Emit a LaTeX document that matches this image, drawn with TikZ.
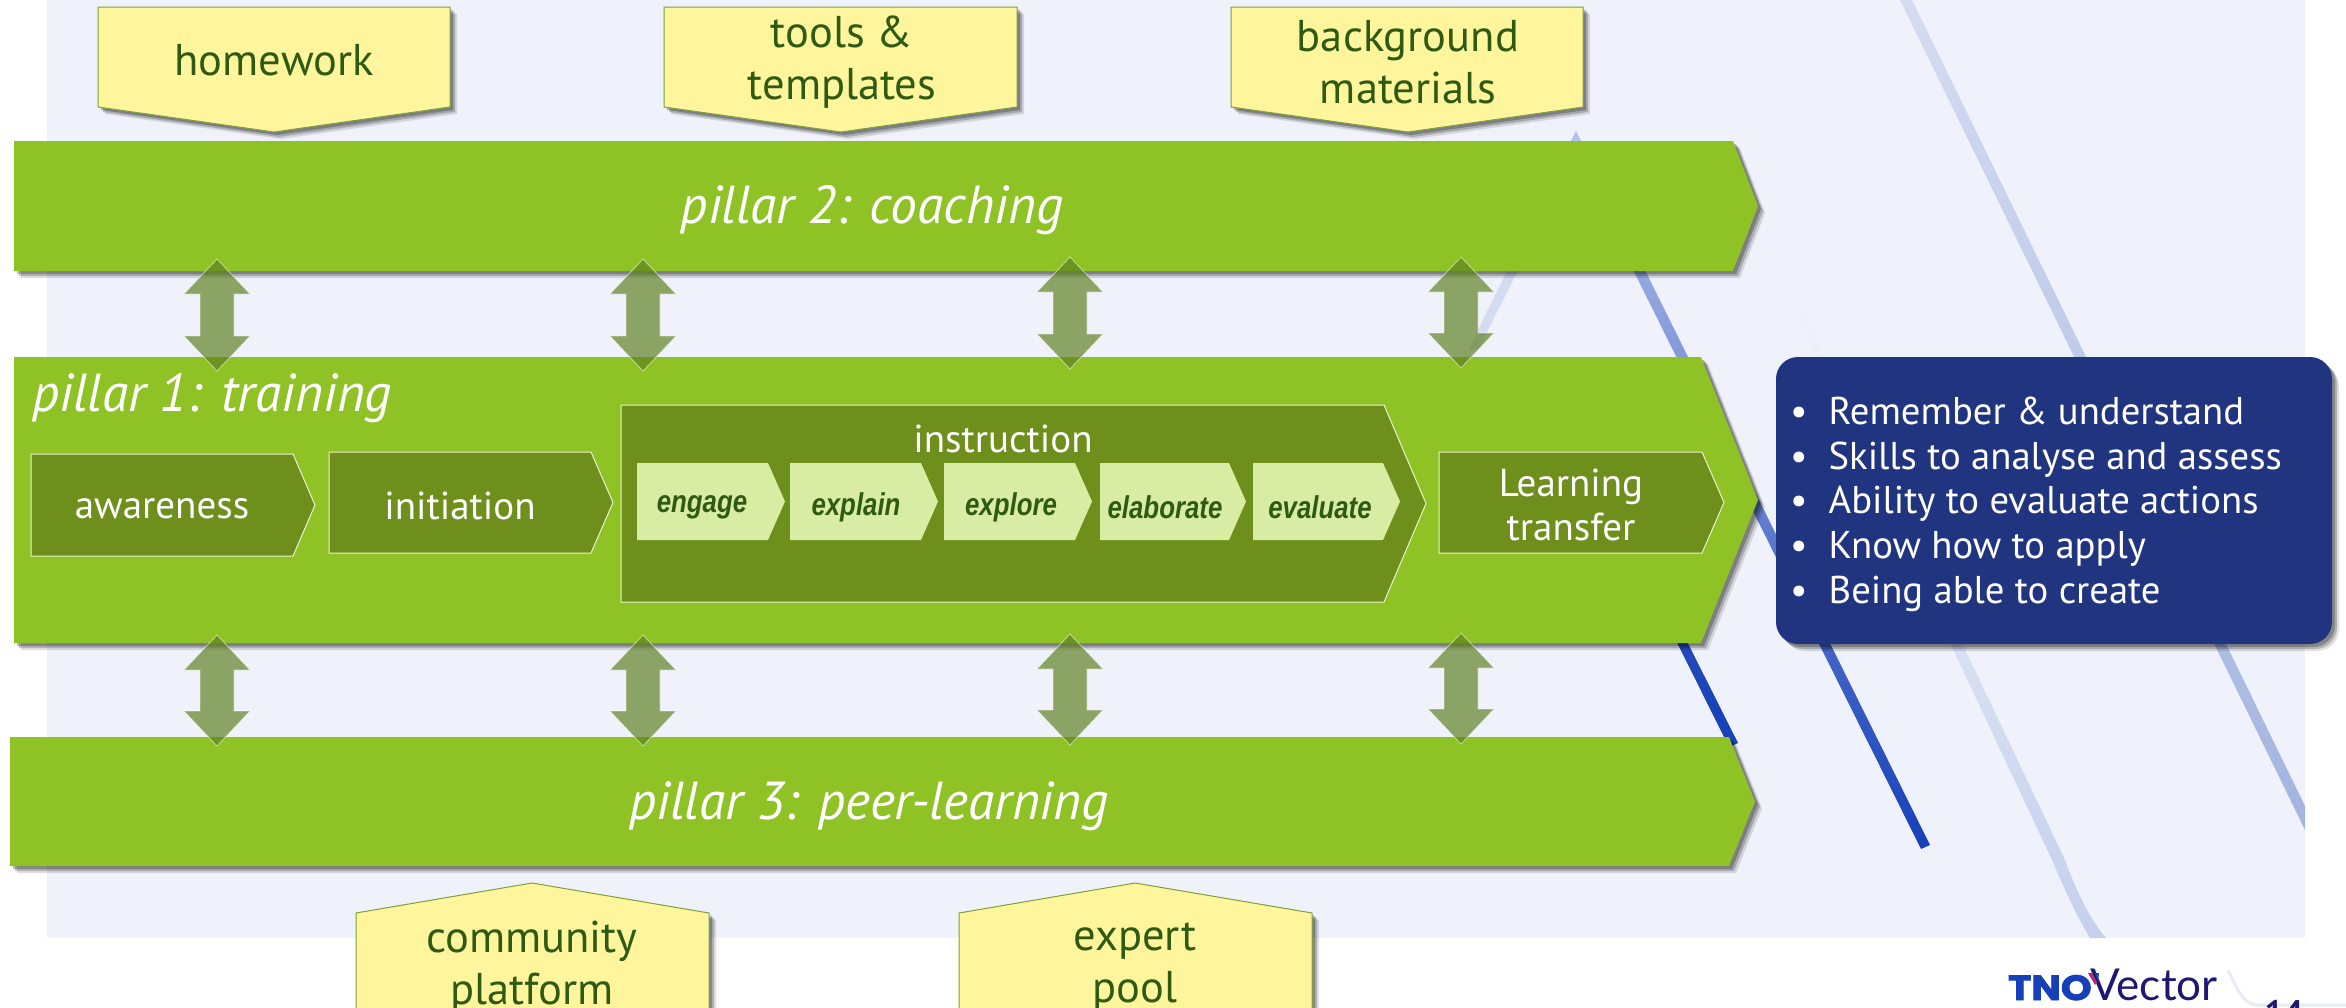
\documentclass[tikz,border=0pt]{standalone}
\usepackage{fontspec}
\setmainfont{PT Sans}
\newfontfamily\narrowbold[FakeStretch=0.82]{Liberation Sans}
\newfontfamily\logobold[FakeStretch=1.12,FakeBold=2.5]{Poppins}
\newfontfamily\logolight{Lato}
\usetikzlibrary{shadows}
\definecolor{pagebg}{HTML}{EFF2FA}
\definecolor{pillargreen}{HTML}{8FC224}
\definecolor{darkgreen}{HTML}{6E8F1C}
\definecolor{lightgreen}{HTML}{D8EDA3}
\definecolor{deepgreen}{HTML}{2F5A12}
\definecolor{notebox}{HTML}{FFF59D}
\definecolor{noteline}{HTML}{7DA03A}
\definecolor{navybox}{HTML}{21347F}
\definecolor{arrowgreen}{HTML}{5C7F1E}
\definecolor{lineA}{HTML}{D4DCF1}
\definecolor{lineAb}{HTML}{A3B4E0}
\definecolor{lineB}{HTML}{C5D0EC}
\definecolor{lineC}{HTML}{B4C3EA}
\definecolor{lineD}{HTML}{1740B8}
\definecolor{lineE}{HTML}{3557C0}
\definecolor{tnoblue}{HTML}{1540B8}
\definecolor{vectornavy}{HTML}{1F1870}
\definecolor{footerline}{HTML}{E8ECF8}
\definecolor{tickred}{HTML}{B0306A}
\newcommand{\fsz}[1]{\fontsize{#1}{60}\selectfont}
\tikzset{
  softshadow/.style={
    drop shadow={shadow xshift=7pt,shadow yshift=-7pt,opacity=.12,fill=black},
    drop shadow={shadow xshift=5pt,shadow yshift=-5pt,opacity=.2,fill=black},
    drop shadow={shadow xshift=3pt,shadow yshift=-3pt,opacity=.25,fill=black}},
  pillar/.style={fill=pillargreen,softshadow},
  darkstep/.style={fill=darkgreen,draw=white!80!pillargreen,line width=1pt},
  lightstep/.style={fill=lightgreen},
  note/.style={fill=notebox,draw=noteline,line width=1pt,softshadow},
  dblarrow/.style={fill=arrowgreen,fill opacity=.68,draw=white,draw opacity=.55,line width=.8pt},
  whitelabel/.style={text=white,inner sep=0pt,align=center},
  pillarlabel/.style={whitelabel,font=\fsz{53.5}\itshape},
  steplabel/.style={whitelabel,font=\fsz{39}},
  smalllabel/.style={text=deepgreen,inner sep=0pt,font=\fsz{31.5}\narrowbold\bfseries\itshape},
  notelabel/.style={text=deepgreen,inner sep=0pt,align=center,font=\fontsize{44.5}{52.5}\selectfont},
}
% \dbl{cx}{top}{bottom}
\newcommand{\dbl}[3]{\draw[dblarrow] (#1,#2) -- (#1+33,#2+35) -- (#1+17,#2+35) -- (#1+17,#3-35) -- (#1+33,#3-35) -- (#1,#3) -- (#1-33,#3-35) -- (#1-17,#3-35) -- (#1-17,#2+35) -- (#1-33,#2+35) -- cycle;}
% \stepshape{style}{left}{shoulder}{tip}{top}{bottom}
\newcommand{\stepshape}[6]{\path[#1] (#2,#5) -- (#3,#5) -- (#4,{(#5+#6)/2}) -- (#3,#6) -- (#2,#6) -- cycle;}
\begin{document}
\begin{tikzpicture}[x=1pt,y=-1pt]
\clip (0,0) rectangle (2346,1007);
\fill[white] (0,0) rectangle (2346,1007);
\fill[pagebg] (47,0) rectangle (2305,938);
% background lines
\shade[top color=pagebg,bottom color=lineB] (1792,301) -- (1797,301) -- (1963,645) -- (2065,860) .. controls (2076,890) and (2090,920) .. (2106,938) -- (2090,938) .. controls (2076,915) and (2064,888) .. (2052,860) -- (1951,645) -- cycle;
\shade[top color=lineA,bottom color=lineAb] (1900,0) -- (1912,0) -- (2305,806) -- (2305,830) -- cycle;
\fill[lineA] (1576,131) -- (1582,143) -- (1478,350) -- (1468,350) -- cycle;
\shade[top color=lineC,bottom color=lineD] (1576,131) -- (1930,845) -- (1921,849) -- (1570,143) -- cycle;
\shade[top color=lineE,bottom color=lineD] (1606,500) -- (1616,500) -- (1738,743) -- (1729,747) -- cycle;
% pillars
\stepshape{pillar}{14}{1733}{1758}{141}{271}
\stepshape{pillar}{14}{1701}{1758}{357}{643}
\stepshape{pillar}{10}{1729}{1755}{737}{866}
\node[pillarlabel] (p2) at (872,210) {pillar 2: coaching};
\node[pillarlabel] (p3) at (869,806) {pillar 3: peer-learning};
\node[pillarlabel,anchor=west] (p1) at (32,398) {pillar 1: training};
% notes on top
\path[note] (98,7) -- (450,7) -- (450,107) -- (274,132) -- (98,107) -- cycle;
\path[note] (664,7) -- (1017,7) -- (1017,107) -- (841,132) -- (664,107) -- cycle;
\path[note] (1231,7) -- (1583,7) -- (1583,107) -- (1408,132) -- (1231,107) -- cycle;
\node[notelabel] (homework) at (274,60) {homework};
\node[notelabel] (tools) at (842,62) {tools \&\\templates};
\node[notelabel] (background) at (1408,62) {background\\materials};
% notes below
\path[note] (356,1030) -- (356,913) -- (532,883) -- (709,913) -- (709,1030) -- cycle;
\path[note] (959,1030) -- (959,913) -- (1135,883) -- (1312,913) -- (1312,1030) -- cycle;
\node[notelabel] (community) at (532,967) {community\\platform};
\node[notelabel] (expert) at (1135,967) {expert\\pool};
% steps
\stepshape{darkstep}{31}{293}{315}{454}{556}
\stepshape{darkstep}{329}{591}{613}{452}{553}
\stepshape{darkstep}{621}{1384}{1426}{405}{602}
\stepshape{darkstep}{1439}{1702}{1724}{452}{553}
\node[steplabel] (awareness) at (162,509) {awareness};
\node[steplabel] (initiation) at (460,506) {initiation};
\node[steplabel] (instruction) at (1003,439) {instruction};
\node[whitelabel,font=\fontsize{39}{44}\selectfont] (transfer) at (1571,505) {Learning\\transfer};
\stepshape{lightstep}{637}{768}{785}{463}{540}
\stepshape{lightstep}{790}{921}{938}{463}{540}
\stepshape{lightstep}{944}{1075}{1092}{463}{540}
\stepshape{lightstep}{1100}{1229}{1246}{463}{540}
\stepshape{lightstep}{1253}{1383}{1400}{463}{540}
\node[smalllabel] (engage) at (702,507) {engage};
\node[smalllabel] (explain) at (856,507) {explain};
\node[smalllabel] (explore) at (1011,507) {explore};
\node[smalllabel] (elaborate) at (1165,507) {elaborate};
\node[smalllabel] (evaluate) at (1320,507) {evaluate};
% double arrows
\dbl{217}{259}{371}
\dbl{643}{259}{371}
\dbl{1070}{257}{369}
\dbl{1461}{257}{368}
\dbl{217}{635}{746}
\dbl{643}{635}{746}
\dbl{1070}{634}{745}
\dbl{1461}{633}{744}
% outcome box
\node[fill=navybox,rounded corners=22pt,minimum width=556pt,minimum height=287pt,inner sep=0pt,softshadow] (outcomes) at (2054,500.5) {};
\node[text=white,inner sep=0pt,anchor=west,font=\fontsize{38.7}{44.6}\selectfont] (outcometext) at (1790,505) {\begin{tabular}{@{}l@{\hspace{21pt}}l@{}}
•&Remember \& understand\\
•&Skills to analyse and assess\\
•&Ability to evaluate actions\\
•&Know how to apply\\
•&Being able to create
\end{tabular}};
% footer
\draw[line width=3pt,color=footerline] (2228,970) .. controls (2238,990) and (2242,1004) .. (2258,1005) -- (2346,1005);
\node[inner sep=0pt,anchor=base west,text=tnoblue,font=\fontsize{35}{40}\logobold\bfseries] (tno) at (2008,1000) {TNO};
\node[inner sep=0pt,anchor=base west,text=vectornavy,font=\fontsize{44}{50}\logolight] (vector) at (2090,1000) {Vector};
\fill[tickred] (2088,973) -- (2092,973) -- (2097,982) -- (2095,985) -- cycle;
\fill[tnoblue] (2095,973) -- (2099,973) -- (2098,981) -- cycle;
\node[inner sep=0pt,anchor=north,text=vectornavy,font=\fontsize{34}{40}\bfseries] (pageno) at (2284,1000) {14};
\end{tikzpicture}
\end{document}
